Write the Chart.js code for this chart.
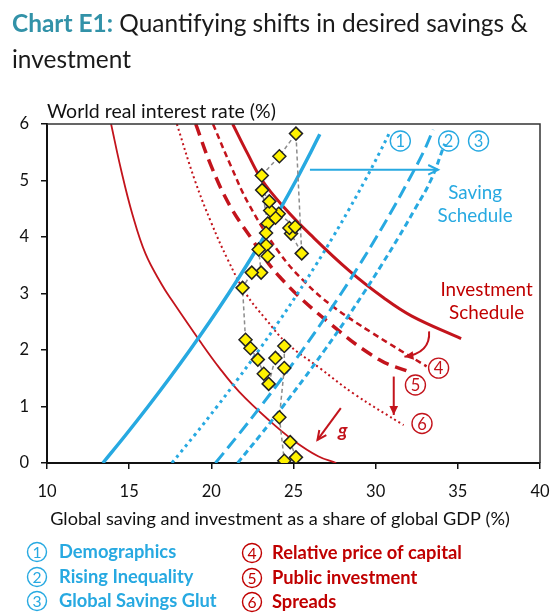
<!DOCTYPE html>
<html>
<head>
<meta charset="utf-8">
<script src="https://cdn.jsdelivr.net/npm/chart.js@4.4.0/dist/chart.umd.min.js"></script>
<style>
html, body { margin: 0; padding: 0; background: #fff; }
</style>
</head>
<body>
<canvas id="chart" width="550" height="613"></canvas>
<script>
// axis ticks
const xTicks = [10, 15, 20, 25, 30, 35, 40];
const yTicks = [0, 1, 2, 3, 4, 5, 6];

// saving schedules: x = share of global GDP (%), y = world real rate (%)
const saveBaseX = [13.4, 14.8, 16.15, 17.45, 18.7, 19.9, 21.05, 22.15, 23.2, 24.2, 25.15, 26.05, 26.6];
const saveBaseY = [0, 0.5, 1.0, 1.5, 2.0, 2.5, 3.0, 3.5, 4.0, 4.5, 5.0, 5.5, 5.82];
const saveDemoX = [17.6, 19.0, 20.35, 21.65, 22.9, 24.1, 25.25, 26.35, 27.4, 28.4, 29.35, 30.25, 30.8];
const saveDemoY = [0, 0.5, 1.0, 1.5, 2.0, 2.5, 3.0, 3.5, 4.0, 4.5, 5.0, 5.5, 5.82];
const saveIneqX = [20.25, 21.65, 23.0, 24.3, 25.55, 26.75, 27.9, 29.0, 30.05, 31.05, 32.0, 32.9, 33.5];
const saveIneqY = [0, 0.5, 1.0, 1.5, 2.0, 2.5, 3.0, 3.5, 4.0, 4.5, 5.0, 5.5, 5.9];
const saveGlutX = [21.6, 23.0, 24.35, 25.65, 26.9, 28.1, 29.25, 30.35, 31.4, 32.4, 33.35, 34.2];
const saveGlutY = [0, 0.5, 1.0, 1.5, 2.0, 2.5, 3.0, 3.5, 4.0, 4.5, 5.0, 5.65];

// investment schedules
const invBaseX = [21.3, 22.2, 23.1, 24.5, 26.0, 28.4, 30.5, 32.2, 35.2];
const invBaseY = [6.0, 5.48, 5.0, 4.5, 4.05, 3.4, 2.92, 2.6, 2.2];
const invPriceX = [20.1, 21.2, 22.3, 24.14, 25.7, 27.4, 29.8, 33.1];
const invPriceY = [6.0, 5.25, 4.57, 3.72, 3.2, 2.77, 2.3, 1.71];
const invPublicX = [19.05, 20.0, 21.1, 22.4, 24.14, 27.17, 30.2, 32.0];
const invPublicY = [6.0, 5.25, 4.57, 3.99, 3.3, 2.48, 1.83, 1.62];
const invSpreadX = [17.9, 19.0, 20.0, 21.0, 22.1, 23.3, 24.6, 26.6, 28.7, 31.7];
const invSpreadY = [6.0, 5.0, 4.25, 3.6, 3.0, 2.55, 2.12, 1.68, 1.22, 0.67];
const invLowX = [13.9, 14.5, 15.2, 16.0, 17.0, 17.6, 19.3, 20.5, 21.7, 23.5, 25.0, 26.5, 27.6];
const invLowY = [6.0, 5.2, 4.4, 3.7, 3.15, 2.88, 2.16, 1.68, 1.26, 0.76, 0.4, 0.12, 0];

// observed saving / real rate pairs
const obsX = [23.07, 24.14, 25.15, 25.5, 24.85, 24.75, 25.1, 24.1, 23.9, 23.58, 23.53, 23.09, 23.43, 23.33, 23.33, 23.43,
              22.88, 23.03, 22.46, 21.9, 22.08, 22.38, 22.83, 23.19, 23.49, 23.9, 24.44, 24.44, 24.14, 24.44, 25.15, 24.8];
const obsY = [5.09, 5.43, 5.83, 3.71, 4.06, 4.16, 4.18, 4.41, 4.34, 4.47, 4.63, 4.83, 4.24, 4.07, 3.85, 3.66,
              3.78, 3.37, 3.37, 3.1, 2.18, 2.03, 1.83, 1.58, 1.40, 1.86, 2.07, 1.68, 0.81, 0.04, 0.10, 0.37];

const savingFactors = ['Demographics', 'Rising Inequality', 'Global Savings Glut'];
const investFactors = ['Relative price of capital', 'Public investment', 'Spreads'];

const BLUE = '#27a9e1';
const RED = '#c3141c';
const RED_TXT = '#c00000';
const FONT = 'Lato';

function pts(xs, ys) {
    return xs.map((x, i) => ({ x: x, y: ys[i] }));
}

function curve(xs, ys, color, width, dash) {
    return {
        data: pts(xs, ys),
        borderColor: color,
        borderWidth: width,
        borderDash: dash,
        tension: 0.4,
        pointRadius: 0,
        fill: false
    };
}

function fitSize(ctx, text, w, style) {
    ctx.font = style + ' 100px ' + FONT;
    return 100 * w / ctx.measureText(text).width;
}

function arrowHead(ctx, x, y, ang, len, filled) {
    ctx.beginPath();
    ctx.moveTo(x - len * Math.cos(ang - 0.45), y - len * Math.sin(ang - 0.45));
    ctx.lineTo(x, y);
    ctx.lineTo(x - len * Math.cos(ang + 0.45), y - len * Math.sin(ang + 0.45));
    if (filled) { ctx.closePath(); ctx.fill(); } else ctx.stroke();
}

function arrow(ctx, x1, y1, x2, y2, filled, len) {
    ctx.beginPath();
    ctx.moveTo(x1, y1);
    ctx.lineTo(x2, y2);
    ctx.stroke();
    arrowHead(ctx, x2, y2, Math.atan2(y2 - y1, x2 - x1), len, filled);
}

function circled(ctx, x, y, n, color, r) {
    ctx.save();
    ctx.strokeStyle = color;
    ctx.fillStyle = color;
    ctx.lineWidth = 1.4;
    ctx.beginPath();
    ctx.arc(x, y, r, 0, Math.PI * 2);
    ctx.stroke();
    ctx.font = (r * 1.65) + 'px ' + FONT;
    ctx.textAlign = 'center';
    ctx.textBaseline = 'middle';
    ctx.fillText(n, x, y + 1);
    ctx.restore();
}

const extras = {
    id: 'extras',
    afterDraw(chart) {
        const ctx = chart.ctx;
        const a = chart.chartArea;
        const X = v => chart.scales.x.getPixelForValue(v);
        const Y = v => chart.scales.y.getPixelForValue(v);
        ctx.save();

        // frame top / right
        ctx.strokeStyle = '#333';
        ctx.lineWidth = 1.5;
        ctx.beginPath();
        ctx.moveTo(a.left, a.top);
        ctx.lineTo(a.right, a.top);
        ctx.lineTo(a.right, a.bottom);
        ctx.stroke();

        // title
        const t1a = 'Chart E1:', t1b = ' Quantifying shifts in desired savings &';
        ctx.font = 'bold 21px ' + FONT;
        const wa = ctx.measureText(t1a).width;
        ctx.font = '21px ' + FONT;
        const wb = ctx.measureText(t1b).width;
        const k = 516 / (wa + wb);
        ctx.textBaseline = 'alphabetic';
        ctx.textAlign = 'left';
        ctx.font = 'bold ' + (21 * k) + 'px ' + FONT;
        ctx.fillStyle = '#3292a8';
        ctx.fillText(t1a, 12, 32);
        ctx.font = (21 * k) + 'px ' + FONT;
        ctx.fillStyle = '#1a1a1a';
        ctx.fillText(t1b, 12 + wa * k, 32);
        ctx.fillText('investment', 12, 68);

        // axis titles
        ctx.fillStyle = '#111';
        const yt = 'World real interest rate (%)';
        ctx.font = fitSize(ctx, yt, 229, '') + 'px ' + FONT;
        ctx.textBaseline = 'middle';
        ctx.fillText(yt, 47, 112);
        const xt = 'Global saving and investment as a share of global GDP (%)';
        ctx.font = fitSize(ctx, xt, 460, '') + 'px ' + FONT;
        ctx.textAlign = 'center';
        ctx.fillText(xt, 280, 519);

        // saving shift arrow
        ctx.strokeStyle = BLUE;
        ctx.fillStyle = BLUE;
        ctx.lineWidth = 2;
        arrow(ctx, X(26.0), Y(5.19), X(33.8), Y(5.19), false, 11);

        const ss = fitSize(ctx, 'Schedule', 75, '');
        ctx.font = ss + 'px ' + FONT;
        ctx.fillText('Saving', X(36.05), Y(4.78));
        ctx.fillText('Schedule', X(36.05), Y(4.37));
        circled(ctx, X(31.5), Y(5.7), '1', BLUE, 10);
        circled(ctx, X(34.44), Y(5.7), '2', BLUE, 10);
        circled(ctx, X(36.26), Y(5.7), '3', BLUE, 10);

        // investment labels and arrows
        ctx.fillStyle = RED_TXT;
        ctx.strokeStyle = RED;
        ctx.fillText('Investment', X(36.75), Y(3.07));
        ctx.fillText('Schedule', X(36.75), Y(2.65));
        ctx.fillStyle = RED;
        ctx.lineWidth = 2;
        const cx1 = X(33.25), cy1 = Y(2.33), qx = X(33.35), qy = Y(1.95), cx2 = X(31.75), cy2 = Y(1.88);
        ctx.beginPath();
        ctx.moveTo(cx1, cy1);
        ctx.quadraticCurveTo(qx, qy, cx2, cy2);
        ctx.stroke();
        arrowHead(ctx, cx2, cy2, Math.atan2(cy2 - qy, cx2 - qx), 10, true);
        arrow(ctx, X(31.1), Y(1.53), X(31.1), Y(0.85), true, 10);
        arrow(ctx, X(27.88), Y(0.97), X(26.46), Y(0.41), false, 10);
        ctx.font = 'italic bold 19px ' + FONT;
        ctx.fillText('g', X(28.0), Y(0.57));
        circled(ctx, X(33.83), Y(1.68), '4', RED, 10);
        circled(ctx, X(32.42), Y(1.38), '5', RED, 10);
        circled(ctx, X(32.82), Y(0.70), '6', RED, 10);

        // legend
        const ls = fitSize(ctx, investFactors[0], 190, 'bold');
        ctx.textAlign = 'left';
        ctx.textBaseline = 'middle';
        const rows = [552, 577, 601];
        savingFactors.forEach((s, i) => {
            circled(ctx, 37, rows[i], String(i + 1), BLUE, 9.5);
            ctx.font = 'bold ' + ls + 'px ' + FONT;
            ctx.fillStyle = BLUE;
            ctx.fillText(s, 59, rows[i]);
        });
        investFactors.forEach((s, i) => {
            circled(ctx, 252, rows[i] + 1, String(i + 4), RED_TXT, 9.5);
            ctx.font = 'bold ' + ls + 'px ' + FONT;
            ctx.fillStyle = RED_TXT;
            ctx.fillText(s, 272, rows[i] + 1);
        });
        ctx.restore();
    }
};

new Chart(document.getElementById('chart'), {
    type: 'line',
    data: {
        datasets: [
            {
                data: pts(obsX, obsY),
                borderColor: '#8c8c8c',
                borderWidth: 1.5,
                borderDash: [4, 3],
                tension: 0,
                pointStyle: 'rectRot',
                pointRadius: 6.5,
                pointBackgroundColor: '#fff200',
                pointBorderColor: '#222',
                pointBorderWidth: 1.5,
                fill: false
            },
            curve(saveBaseX, saveBaseY, BLUE, 3.5, []),
            curve(saveDemoX, saveDemoY, BLUE, 3, [3, 4]),
            curve(saveIneqX, saveIneqY, BLUE, 3, [13, 6]),
            curve(saveGlutX, saveGlutY, BLUE, 3, [6, 4]),
            curve(invBaseX, invBaseY, RED, 3, []),
            curve(invPriceX, invPriceY, RED, 2.5, [6, 4]),
            curve(invPublicX, invPublicY, RED, 3.5, [12, 7]),
            curve(invSpreadX, invSpreadY, RED, 2, [2, 3]),
            curve(invLowX, invLowY, RED, 1.8, [])
        ]
    },
    options: {
        responsive: false,
        animation: false,
        events: [],
        layout: { padding: { left: 0, top: 124, right: 10, bottom: 110 } },
        plugins: { legend: { display: false }, tooltip: { enabled: false } },
        scales: {
            x: {
                type: 'linear',
                min: 10,
                max: 40,
                afterBuildTicks: s => { s.ticks = xTicks.map(v => ({ value: v })); },
                afterFit: s => { s.height = 40; s.paddingLeft = 0; s.paddingRight = 0; },
                ticks: { color: '#111', font: { family: FONT, size: 16.5 }, padding: 13 },
                grid: { drawOnChartArea: false, drawTicks: true, tickLength: 6, color: '#111', lineWidth: 1.5 },
                border: { display: true, color: '#111', width: 2 }
            },
            y: {
                type: 'linear',
                min: 0,
                max: 6,
                afterBuildTicks: s => { s.ticks = yTicks.map(v => ({ value: v })); },
                afterFit: s => { s.width = 47; s.paddingTop = 0; s.paddingBottom = 0; },
                ticks: { color: '#111', font: { family: FONT, size: 16.5 }, padding: 12 },
                grid: { drawOnChartArea: false, drawTicks: true, tickLength: 6, color: '#111', lineWidth: 1.5 },
                border: { display: true, color: '#111', width: 2 }
            }
        }
    },
    plugins: [extras]
});
</script>
</body>
</html>
